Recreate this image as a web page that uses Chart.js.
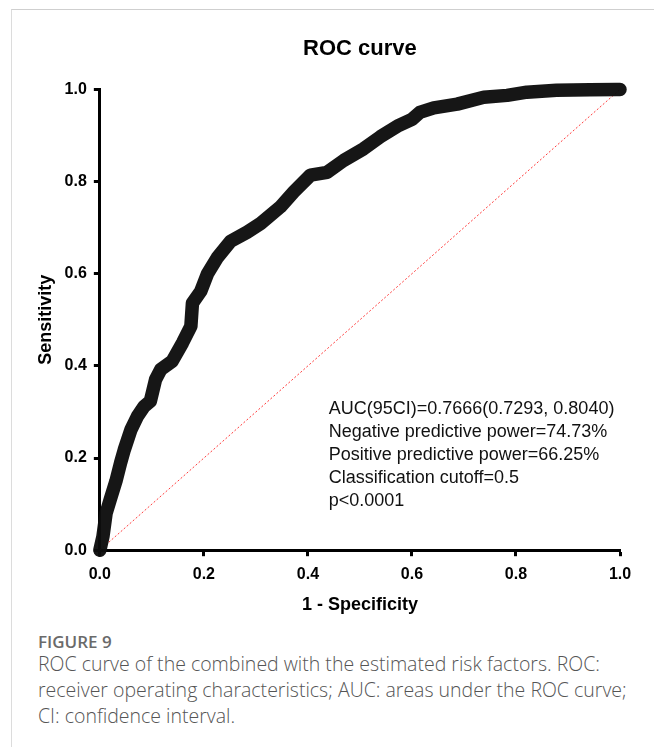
<!DOCTYPE html>
<html>
<head>
<meta charset="utf-8">
<script src="https://cdn.jsdelivr.net/npm/chart.js@4.4.1/dist/chart.umd.min.js"></script>
<style>
  html, body { margin: 0; padding: 0; background: #fff; }
  body { width: 654px; height: 747px; position: relative; overflow: hidden; }
  #marco { position: absolute; left: 11px; top: 9px; right: 0; bottom: 0;
           border-top: 1px solid #cfcfcf; border-left: 1px solid #dcdcdc; }
  #grafico { position: absolute; left: 0; top: 0; }
  #etiqueta { position: absolute; left: 38px; top: 631px; line-height: 22px;
              font-family: "Open Sans", "Noto Sans", sans-serif; font-size: 17px;
              font-weight: 600; color: #6a6a6a; }
  #pie { position: absolute; left: 38px; top: 651px; line-height: 26px; white-space: nowrap;
         font-family: "Open Sans", "Noto Sans", sans-serif; font-size: 19.5px;
         font-weight: 300; color: #555; }
</style>
</head>
<body>
<div id="marco"></div>
<canvas id="grafico" width="654" height="624"></canvas>
<div id="etiqueta">FIGURE 9</div>
<div id="pie">ROC curve of the combined with the estimated risk factors. ROC:<br>receiver operating characteristics; AUC: areas under the ROC curve;<br>CI: confidence interval.</div>

<script>
// datos
const fpr = [0, 0.006, 0.012, 0.02, 0.031, 0.04, 0.047, 0.06, 0.072, 0.085,
             0.097, 0.107, 0.117, 0.139, 0.159, 0.175, 0.178, 0.194, 0.207, 0.226,
             0.251, 0.283, 0.309, 0.347, 0.373, 0.405, 0.437, 0.469, 0.507, 0.539,
             0.575, 0.6, 0.615, 0.642, 0.687, 0.738, 0.783, 0.821, 0.878, 0.942,
             0.993, 1];
const tpr = [0, 0.03, 0.08, 0.11, 0.15, 0.19, 0.218, 0.262, 0.29, 0.312,
             0.323, 0.37, 0.392, 0.41, 0.45, 0.486, 0.536, 0.562, 0.6, 0.635,
             0.67, 0.69, 0.709, 0.745, 0.778, 0.814, 0.82, 0.846, 0.871, 0.897,
             0.922, 0.935, 0.95, 0.96, 0.968, 0.983, 0.987, 0.994, 0.998, 0.999,
             1, 1];
const diagX = [0, 1];
const diagY = [0, 1];
const ticksEje = [0, 0.2, 0.4, 0.6, 0.8, 1.0];
const textoAUC = [
    "AUC(95CI)=0.7666(0.7293, 0.8040)",
    "Negative predictive power=74.73%",
    "Positive predictive power=66.25%",
    "Classification cutoff=0.5",
    "p<0.0001"
];

const fuente = "'Liberation Sans', Arial, Helvetica, sans-serif";

// texto de la leyenda dentro del grafico
const pluginTexto = {
    id: 'textoAUC',
    afterDatasetsDraw(chart) {
        const ctx = chart.ctx;
        const x = chart.scales.x.getPixelForValue(0.44);
        const y0 = chart.scales.y.getPixelForValue(0.307);
        ctx.save();
        ctx.font = "18px " + fuente;
        ctx.fillStyle = "#111";
        ctx.textAlign = "left";
        ctx.textBaseline = "middle";
        textoAUC.forEach((t, i) => ctx.fillText(t, x, y0 + i * 23));
        ctx.restore();
    }
};

const ejeComun = (titulo, padTitulo, padTicks) => ({
    type: 'linear',
    min: 0,
    max: 1,
    afterBuildTicks: (s) => { s.ticks = ticksEje.map(v => ({ value: v })); },
    ticks: {
        callback: v => Number(v).toFixed(1),
        color: '#000',
        font: { family: fuente, size: 16, weight: 'bold' },
        padding: padTicks
    },
    grid: { display: true, drawOnChartArea: false, tickLength: 6, tickWidth: 3, tickColor: '#000' },
    border: { display: true, width: 3, color: '#000' },
    title: {
        display: true,
        text: titulo,
        color: '#000',
        font: { family: fuente, size: 18, weight: 'bold' },
        padding: padTitulo
    }
});

new Chart(document.getElementById('grafico'), {
    type: 'scatter',
    data: {
        datasets: [
            {
                data: fpr.map((v, i) => ({ x: v, y: tpr[i] })),
                showLine: true,
                borderColor: 'rgba(12,12,12,0.96)',
                borderWidth: 13.5,
                borderCapStyle: 'round',
                borderJoinStyle: 'round',
                pointRadius: 0,
                tension: 0,
                clip: false
            },
            {
                data: diagX.map((v, i) => ({ x: v, y: diagY[i] })),
                showLine: true,
                borderColor: '#ff3b3b',
                borderWidth: 1,
                borderDash: [2, 2],
                pointRadius: 0,
                clip: false
            }
        ]
    },
    options: {
        responsive: false,
        animation: false,
        events: [],
        layout: { padding: { left: 35, right: 34, top: 20, bottom: 4 } },
        plugins: {
            legend: { display: false },
            tooltip: { enabled: false },
            title: {
                display: true,
                text: 'ROC curve',
                fullSize: false,
                color: '#000',
                font: { family: fuente, size: 22, weight: 'bold' },
                padding: { top: 16, bottom: 27 }
            }
        },
        scales: {
            x: ejeComun('1 - Specificity', { top: 1, bottom: 4 }, 9),
            y: ejeComun('Sensitivity', { top: 0, bottom: 1 }, 7)
        }
    },
    plugins: [pluginTexto]
});
</script>
</body>
</html>
